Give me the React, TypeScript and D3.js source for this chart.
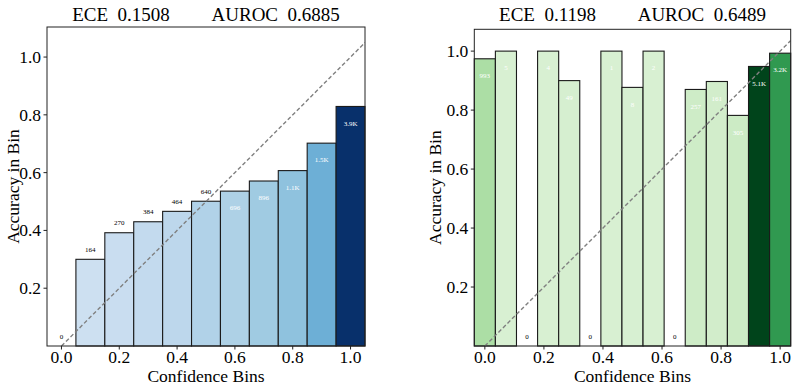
import React from "react";
import * as d3 from "d3";

// left panel (blues), 11 bins
const leftCenters = [0, 0.1, 0.2, 0.3, 0.4, 0.5, 0.6, 0.7, 0.8, 0.9, 1.0];
const leftAcc = [0, 0.3, 0.392, 0.43, 0.466, 0.501, 0.536, 0.571, 0.607, 0.702, 0.829];
const leftCounts = [0, 164, 270, 384, 464, 640, 696, 896, 1100, 1500, 3900];
const leftLabels = ["0", "164", "270", "384", "464", "640", "696", "896", "1.1K", "1.5K", "3.9K"];
const leftTitle = ["ECE", "0.1508", "AUROC", "0.6885"];

// right panel (greens), 15 bins
const rightCenters = [0, 0.0714, 0.1429, 0.2143, 0.2857, 0.3571, 0.4286, 0.5, 0.5714, 0.6429, 0.7143, 0.7857, 0.8571, 0.9286, 1.0];
const rightAcc = [0.974, 1.0, 0, 1.0, 0.9, 0, 1.0, 0.877, 1.0, 0, 0.87, 0.897, 0.782, 0.948, 0.993];
const rightCounts = [993, 5, 0, 4, 49, 0, 1, 8, 2, 0, 257, 161, 305, 5100, 3200];
const rightLabels = ["993", "5", "0", "4", "49", "0", "1", "8", "2", "0", "257", "161", "305", "5.1K", "3.2K"];
const rightTitle = ["ECE", "0.1198", "AUROC", "0.6489"];

const xTicks = [0, 0.2, 0.4, 0.6, 0.8, 1.0];
const yTicks = [0.2, 0.4, 0.6, 0.8, 1.0];

const bluesStops = ["#f7fbff", "#deebf7", "#c6dbef", "#9ecae1", "#6baed6", "#4292c6", "#2171b5", "#08519c", "#08306b"];
const greensStops = ["#f7fcf5", "#e5f5e0", "#c7e9c0", "#a1d99b", "#74c476", "#41ab5d", "#238b45", "#006d2c", "#00441b"];

const FONT = "'Liberation Serif', 'Times New Roman', serif";
const serif = { fontFamily: FONT };

type PanelProps = {
  left: number; right: number; top: number; bottom: number;
  xDomain: [number, number]; yMax: number; binWidth: number;
  centers: number[]; acc: number[]; counts: number[]; labels: string[];
  title: string[]; stops: string[]; yLabelOffset: number;
};

function Panel(p: PanelProps) {
  const x = d3.scaleLinear().domain(p.xDomain).range([p.left, p.right]);
  const y = d3.scaleLinear().domain([0, p.yMax]).range([p.bottom, p.top]);
  const cmap = d3.scaleLinear<string>()
    .domain(d3.range(p.stops.length).map(i => i / (p.stops.length - 1)))
    .range(p.stops);
  const maxC = d3.max(p.counts) as number;
  const color = (c: number) => cmap(0.18 + 0.82 * c / maxC);
  const cx = (p.left + p.right) / 2;
  const clipId = "clip" + Math.round(p.left);
  const diagEnd = p.xDomain[1];

  return (
    <g>
      <defs>
        <clipPath id={clipId}>
          <rect x={p.left} y={p.top} width={p.right - p.left} height={p.bottom - p.top} />
        </clipPath>
      </defs>
      <text x={cx} y={21} fontSize={19} textAnchor="middle" style={{ ...serif, whiteSpace: "pre" }}>
        {p.title[0] + "  " + p.title[1] + "         " + p.title[2] + "  " + p.title[3]}
      </text>
      {p.centers.map((c, i) => p.acc[i] > 0 ? (
        <rect key={"b" + i}
          x={x(c - p.binWidth / 2)} y={y(p.acc[i])}
          width={x(c + p.binWidth / 2) - x(c - p.binWidth / 2)}
          height={y(0) - y(p.acc[i])}
          fill={color(p.counts[i])} stroke="#1a1a1a" strokeWidth={1.1} />
      ) : null)}
      <line clipPath={`url(#${clipId})`} x1={x(0)} y1={y(0)} x2={x(diagEnd)} y2={y(diagEnd)}
        stroke="#808080" strokeWidth={1.4} strokeDasharray="4,2.4" />
      {p.centers.map((c, i) => {
        const inside = p.acc[i] > 0.52;
        return (
          <text key={"l" + i} x={x(c)} y={inside ? y(p.acc[i]) + 17.5 : y(p.acc[i]) - 9}
            fontSize={7} textAnchor="middle" dominantBaseline="middle" style={serif}
            fill={inside ? "white" : "black"}>{p.labels[i]}</text>
        );
      })}
      <rect x={p.left} y={p.top} width={p.right - p.left} height={p.bottom - p.top}
        fill="none" stroke="#222" strokeWidth={1} />
      {xTicks.map(t => (
        <g key={"x" + t}>
          <line x1={x(t)} x2={x(t)} y1={p.bottom} y2={p.bottom + 3.5} stroke="#222" />
          <text x={x(t)} y={p.bottom + 17} fontSize={17.5} textAnchor="middle" style={serif}>{t.toFixed(1)}</text>
        </g>
      ))}
      {yTicks.map(t => (
        <g key={"y" + t}>
          <line x1={p.left - 3.5} x2={p.left} y1={y(t)} y2={y(t)} stroke="#222" />
          <text x={p.left - 6} y={y(t) + 6} fontSize={17.5} textAnchor="end" style={serif}>{t.toFixed(1)}</text>
        </g>
      ))}
      <text x={cx} y={382} fontSize={17.5} textAnchor="middle" style={serif}>Confidence Bins</text>
      <text transform={`translate(${p.left - p.yLabelOffset},${(p.top + p.bottom) / 2}) rotate(-90)`}
        fontSize={17.5} textAnchor="middle" style={serif}>Accuracy in Bin</text>
    </g>
  );
}

export default function App() {
  return (
    <svg width={797} height={386} style={{ position: "absolute", left: 0, top: 0, background: "white" }}>
      <rect width={797} height={386} fill="white" />
      <Panel left={47} right={365} top={27} bottom={346} xDomain={[-0.05, 1.05]} yMax={1.104}
        binWidth={0.1} centers={leftCenters} acc={leftAcc} counts={leftCounts} labels={leftLabels}
        title={leftTitle} stops={bluesStops} yLabelOffset={28} />
      <Panel left={474.3} right={790.7} top={29.3} bottom={346} xDomain={[-1 / 28, 1 + 1 / 28]} yMax={1.074}
        binWidth={1 / 14} centers={rightCenters} acc={rightAcc} counts={rightCounts} labels={rightLabels}
        title={rightTitle} stops={greensStops} yLabelOffset={33} />
    </svg>
  );
}
